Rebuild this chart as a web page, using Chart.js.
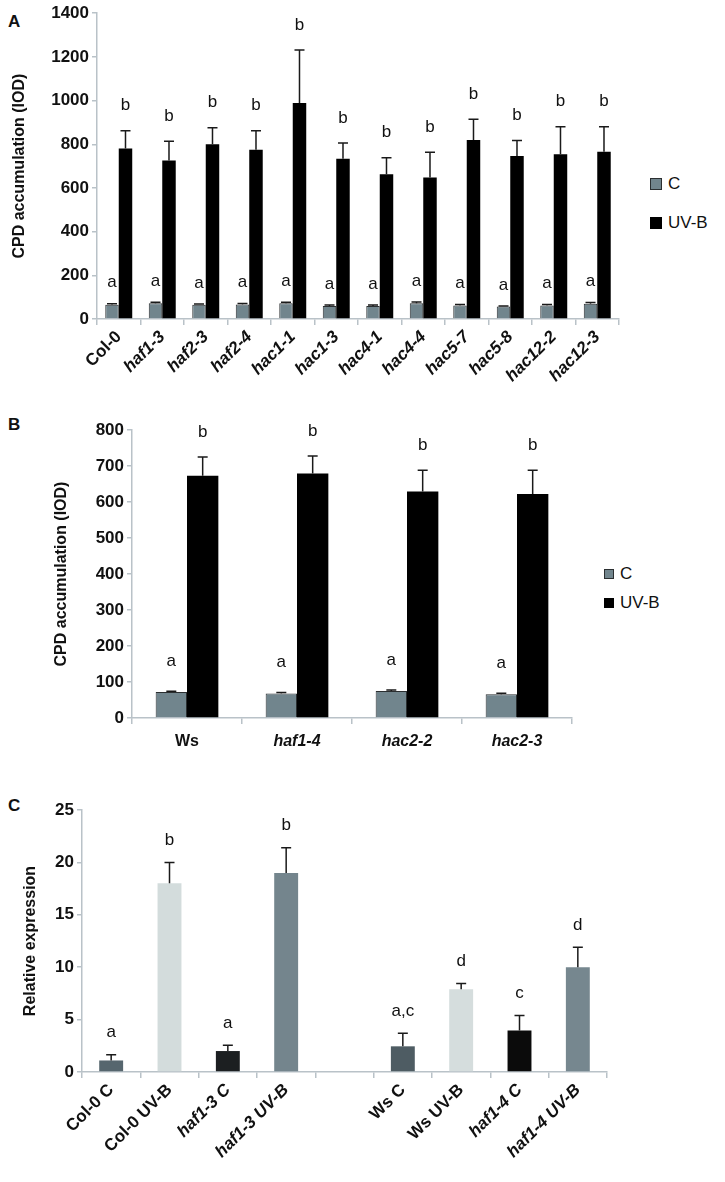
<!DOCTYPE html>
<html><head><meta charset="utf-8">
<script src="https://cdn.jsdelivr.net/npm/chart.js@4.4.0/dist/chart.umd.min.js"></script>
<style>
body{margin:0;background:#fff;width:725px;height:1182px;position:relative;overflow:hidden;font-family:'Liberation Sans',Arial,sans-serif;}
canvas{position:absolute;left:0;}
.lbl{position:absolute;font-weight:bold;font-size:17px;line-height:17px;color:#111;}
.leg{position:absolute;font-size:17px;line-height:17px;color:#111;display:flex;align-items:center;}
.sw{display:inline-block;width:12px;height:12px;margin-right:6px;box-sizing:border-box;}
</style></head><body>
<div class="lbl" style="left:8px;top:13px;">A</div>
<div class="lbl" style="left:8px;top:416px;">B</div>
<div class="lbl" style="left:8px;top:797px;">C</div>
<div class="leg" style="left:650px;top:175px;"><span class="sw" style="background:#71858d;border:1px solid #2b2f31"></span>C</div>
<div class="leg" style="left:650px;top:214px;"><span class="sw" style="background:#000"></span>UV-B</div>
<div class="leg" style="left:604px;top:565px;"><span class="sw" style="width:10px;height:10px;background:#71858d;border:1px solid #2b2f31"></span>C</div>
<div class="leg" style="left:604px;top:594px;"><span class="sw" style="width:10px;height:10px;background:#000"></span>UV-B</div>
<canvas id="cA" width="725" height="395" style="top:0px"></canvas>
<canvas id="cB" width="725" height="375" style="top:395px"></canvas>
<canvas id="cC" width="725" height="412" style="top:770px"></canvas>
<script>
// ---------- Panel A data ----------
const catsA = ['Col-0','haf1-3','haf2-3','haf2-4','hac1-1','hac1-3','hac4-1','hac4-4','hac5-7','hac5-8','hac12-2','hac12-3'];
const ctrlA = [65,72,65,66,72,60,60,72,62,57,62,70];
const ctrlAErr = [5,5,4,5,5,4,4,6,4,3,4,5];
const uvbA = [781,726,800,775,989,734,663,648,819,746,754,766];
const uvbAErr = [81,88,76,87,242,72,75,115,96,71,126,114];
const lettersACtrl = ['a','a','a','a','a','a','a','a','a','a','a','a'];
const lettersAUvb = ['b','b','b','b','b','b','b','b','b','b','b','b'];
const ticksA = [0,200,400,600,800,1000,1200,1400];

// ---------- Panel B data ----------
const catsB = ['Ws','haf1-4','hac2-2','hac2-3'];
const ctrlB = [72,68,75,66];
const ctrlBErr = [2,3,3,3];
const uvbB = [673,679,629,622];
const uvbBErr = [52,49,59,66];
const lettersBCtrl = ['a','a','a','a'];
const lettersBUvb = ['b','b','b','b'];
const ticksB = [0,100,200,300,400,500,600,700,800];

// ---------- Panel C data ----------
const catsC = ['Col-0 C','Col-0 UV-B','haf1-3 C','haf1-3 UV-B','','Ws C','Ws UV-B','haf1-4 C','haf1-4 UV-B'];
const valC = [1.1,18,2.0,19,null,2.45,7.9,3.95,10];
const errC = [0.55,2.0,0.55,2.4,null,1.25,0.55,1.45,1.9];
const lettersC = ['a','b','a','b','','a,c','d','c','d'];
const ticksC = [0,5,10,15,20,25];

const FONT = "'Liberation Sans', Arial, sans-serif";
const AXIS = '#b9c2c8';

const errPlugin = {
  id: 'errLetters',
  afterDatasetsDraw(chart, args, opts) {
    const ctx = chart.ctx;
    const ys = chart.scales.y;
    ctx.save();
    chart.data.datasets.forEach((ds, i) => {
      const meta = chart.getDatasetMeta(i);
      const errs = opts.errs[i] || [];
      const lets = opts.letters[i] || [];
      meta.data.forEach((el, j) => {
        const v = ds.data[j];
        if (v === null || v === undefined) return;
        const e = errs[j] || 0;
        const yTop = ys.getPixelForValue(v + e);
        ctx.strokeStyle = '#1a1a1a';
        ctx.lineWidth = 1.5;
        ctx.beginPath();
        ctx.moveTo(el.x, el.y);
        ctx.lineTo(el.x, yTop);
        ctx.moveTo(el.x - opts.cap, yTop);
        ctx.lineTo(el.x + opts.cap, yTop);
        ctx.stroke();
        if (lets[j]) {
          ctx.fillStyle = '#111';
          ctx.font = opts.font;
          ctx.textAlign = 'center';
          ctx.textBaseline = 'middle';
          ctx.fillText(lets[j], el.x, yTop - opts.offsets[i]);
        }
      });
    });
    ctx.restore();
  }
};

function yScale(ticks, width, title, titlePad) {
  return {
    min: ticks[0], max: ticks[ticks.length-1],
    afterBuildTicks: s => { s.ticks = ticks.map(v => ({value: v})); },
    afterFit: s => { s.width = width; },
    border: {display: true, color: AXIS, width: 1.5},
    grid: {display: true, drawOnChartArea: false, drawTicks: true, tickLength: 5, color: AXIS, lineWidth: 1.5},
    ticks: {color: '#111', padding: 3, font: {family: FONT, size: 17, weight: 'bold'}, callback: v => String(v)},
    title: {display: true, text: title, color: '#111', font: {family: FONT, size: 16, weight: 'bold'}, padding: {top: titlePad, bottom: 0}}
  };
}

function xScale(height, rot, pad, size, italicFn) {
  return {
    afterFit: s => { s.height = height; },
    border: {display: true, color: AXIS, width: 1.5},
    grid: {display: true, drawOnChartArea: false, drawTicks: true, tickLength: 6, color: AXIS, lineWidth: 1.5, offset: true},
    ticks: {
      color: '#111', padding: pad, minRotation: rot, maxRotation: rot, autoSkip: false,
      font: c => ({family: FONT, size: size, weight: 'bold', style: italicFn(c.index) ? 'italic' : 'normal'})
    }
  };
}

Chart.register(errPlugin);

new Chart(document.getElementById('cA'), {
  type: 'bar',
  data: {labels: catsA, datasets: [
    {label: 'C', data: ctrlA, backgroundColor: '#71858d', borderColor: '#2b2f31', borderWidth: 1},
    {label: 'UV-B', data: uvbA, backgroundColor: '#000', borderColor: '#000', borderWidth: 0}
  ]},
  options: {
    responsive: false, animation: false, devicePixelRatio: 1,
    layout: {padding: {top: 10, right: 106, left: 0, bottom: 0}},
    datasets: {bar: {categoryPercentage: 0.62, barPercentage: 1}},
    plugins: {legend: {display: false}, tooltip: {enabled: false},
      errLetters: {errs: [ctrlAErr, uvbAErr], letters: [lettersACtrl, lettersAUvb], offsets: [21, 25], cap: 5, font: "17px " + FONT}},
    scales: {x: xScale(76, 45, 2, 17, i => i !== 0), y: yScale(ticksA, 97, 'CPD accumulation (IOD)', 10)}
  }
});

new Chart(document.getElementById('cB'), {
  type: 'bar',
  data: {labels: catsB, datasets: [
    {label: 'C', data: ctrlB, backgroundColor: '#71858d', borderColor: '#2b2f31', borderWidth: 1},
    {label: 'UV-B', data: uvbB, backgroundColor: '#000', borderColor: '#000', borderWidth: 0}
  ]},
  options: {
    responsive: false, animation: false, devicePixelRatio: 1,
    layout: {padding: {top: 35, right: 153, left: 0, bottom: 0}},
    datasets: {bar: {categoryPercentage: 0.57, barPercentage: 1}},
    plugins: {legend: {display: false}, tooltip: {enabled: false},
      errLetters: {errs: [ctrlBErr, uvbBErr], letters: [lettersBCtrl, lettersBUvb], offsets: [30, 25], cap: 5, font: "17px " + FONT}},
    scales: {x: xScale(52, 0, 8, 16, i => i !== 0), y: yScale(ticksB, 132, 'CPD accumulation (IOD)', 52)}
  }
});

new Chart(document.getElementById('cC'), {
  type: 'bar',
  data: {labels: catsC, datasets: [
    {label: 'Relative expression', data: valC,
     backgroundColor: ['#56666e','#d3dcdc','#1c1f21','#74858d','#fff','#4e5c63','#d5dddd','#0b0b0b','#76878f'],
     borderWidth: 0}
  ]},
  options: {
    responsive: false, animation: false, devicePixelRatio: 1,
    layout: {padding: {top: 40, right: 118, left: 0, bottom: 0}},
    datasets: {bar: {categoryPercentage: 1, barPercentage: 0.41}},
    plugins: {legend: {display: false}, tooltip: {enabled: false},
      errLetters: {errs: [errC], letters: [lettersC], offsets: [22], cap: 5, font: "17px " + FONT}},
    scales: {x: xScale(110, 45, 2, 17, i => catsC[i].startsWith('haf')), y: yScale(ticksC, 82, 'Relative expression', 21)}
  }
});
</script>
</body></html>
